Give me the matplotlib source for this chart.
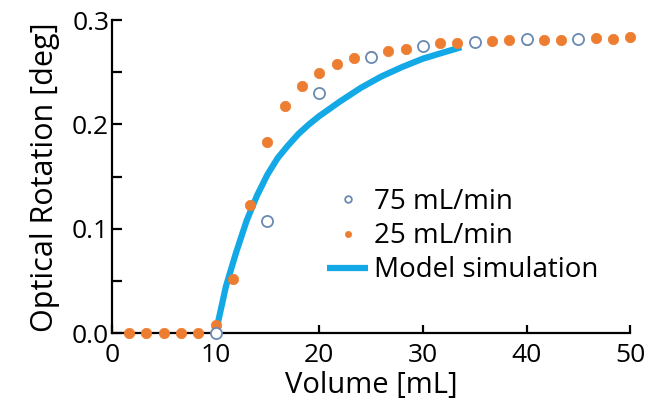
import numpy as np
import matplotlib
matplotlib.use("Agg")
import matplotlib.pyplot as plt
from matplotlib.ticker import MultipleLocator

plt.rcParams["font.family"] = ["Open Sans", "DejaVu Sans"]

# 25 mL/min run (filled orange)
vol_25 = [1.67, 3.33, 5.0, 6.67, 8.33, 10.0, 11.67, 13.33, 15.0, 16.67,
          18.33, 20.0, 21.67, 23.33, 25.0, 26.67, 28.33, 30.0, 31.67, 33.33,
          35.0, 36.67, 38.33, 40.0, 41.67, 43.33, 45.0, 46.67, 48.33, 50.0]
rot_25 = [0.0, 0.0, 0.0, 0.0, 0.0, 0.008, 0.052, 0.123, 0.183, 0.218,
          0.237, 0.249, 0.258, 0.264, 0.266, 0.270, 0.272, 0.275, 0.278, 0.278,
          0.279, 0.280, 0.281, 0.281, 0.281, 0.281, 0.282, 0.283, 0.282, 0.284]

# 75 mL/min run (open circles)
vol_75 = [10, 15, 20, 25, 30, 35, 40, 45]
rot_75 = [0.0, 0.108, 0.230, 0.265, 0.275, 0.279, 0.282, 0.282]

# model simulation curve
vol_model = [10, 11, 12, 13, 14, 15, 16, 17, 18, 19, 20, 22, 24, 26, 28, 30, 32, 33.7]
rot_model = [0.0, 0.045, 0.078, 0.108, 0.132, 0.152, 0.168, 0.180, 0.191, 0.200,
             0.208, 0.222, 0.235, 0.246, 0.255, 0.263, 0.269, 0.274]

orange = "#ED7D31"
cyan = "#13A9E6"
ring = "#6A8AB2"

fig = plt.figure(figsize=(6.47, 4.09), dpi=100)
ax = fig.add_axes([0.173, 0.185, 0.801, 0.766])

ax.plot(vol_model, rot_model, color=cyan, lw=4.5, solid_capstyle="butt",
        label="Model simulation", zorder=2)
ax.plot(vol_25, rot_25, "o", color=orange, ms=7.5, mec=orange, mew=0.5,
        label="25 mL/min", clip_on=False, zorder=3)
ax.plot(vol_75, rot_75, "o", mfc="white", mec=ring, ms=8, mew=1.3,
        label="75 mL/min", clip_on=False, zorder=4)

ax.set_xlim(0, 50)
ax.set_ylim(0, 0.3)
ax.xaxis.set_major_locator(MultipleLocator(10))
ax.yaxis.set_major_locator(MultipleLocator(0.1))
ax.yaxis.set_minor_locator(MultipleLocator(0.05))
ax.yaxis.set_major_formatter(matplotlib.ticker.FormatStrFormatter("%.1f"))

for s in ["top", "right"]:
    ax.spines[s].set_visible(False)
for s in ["left", "bottom"]:
    ax.spines[s].set_linewidth(1.6)

ax.tick_params(axis="x", direction="in", length=6, width=1.6, labelsize=19, pad=7)
ax.tick_params(axis="y", which="both", direction="in", length=7, width=1.6,
               labelsize=19, pad=2)

ax.set_xlabel("Volume [mL]", fontsize=21, labelpad=2)
ax.set_ylabel("Optical Rotation [deg]", fontsize=22, labelpad=9)

h, l = ax.get_legend_handles_labels()
order = [2, 1, 0]
ax.legend([h[i] for i in order], [l[i] for i in order], loc="upper left",
          bbox_to_anchor=(0.505, 0.54), bbox_transform=fig.transFigure,
          frameon=False, fontsize=20, handlelength=1.5, handletextpad=0.2,
          labelspacing=0.22, markerscale=0.6, borderaxespad=0, borderpad=0)

fig.savefig("out.png", dpi=100)
